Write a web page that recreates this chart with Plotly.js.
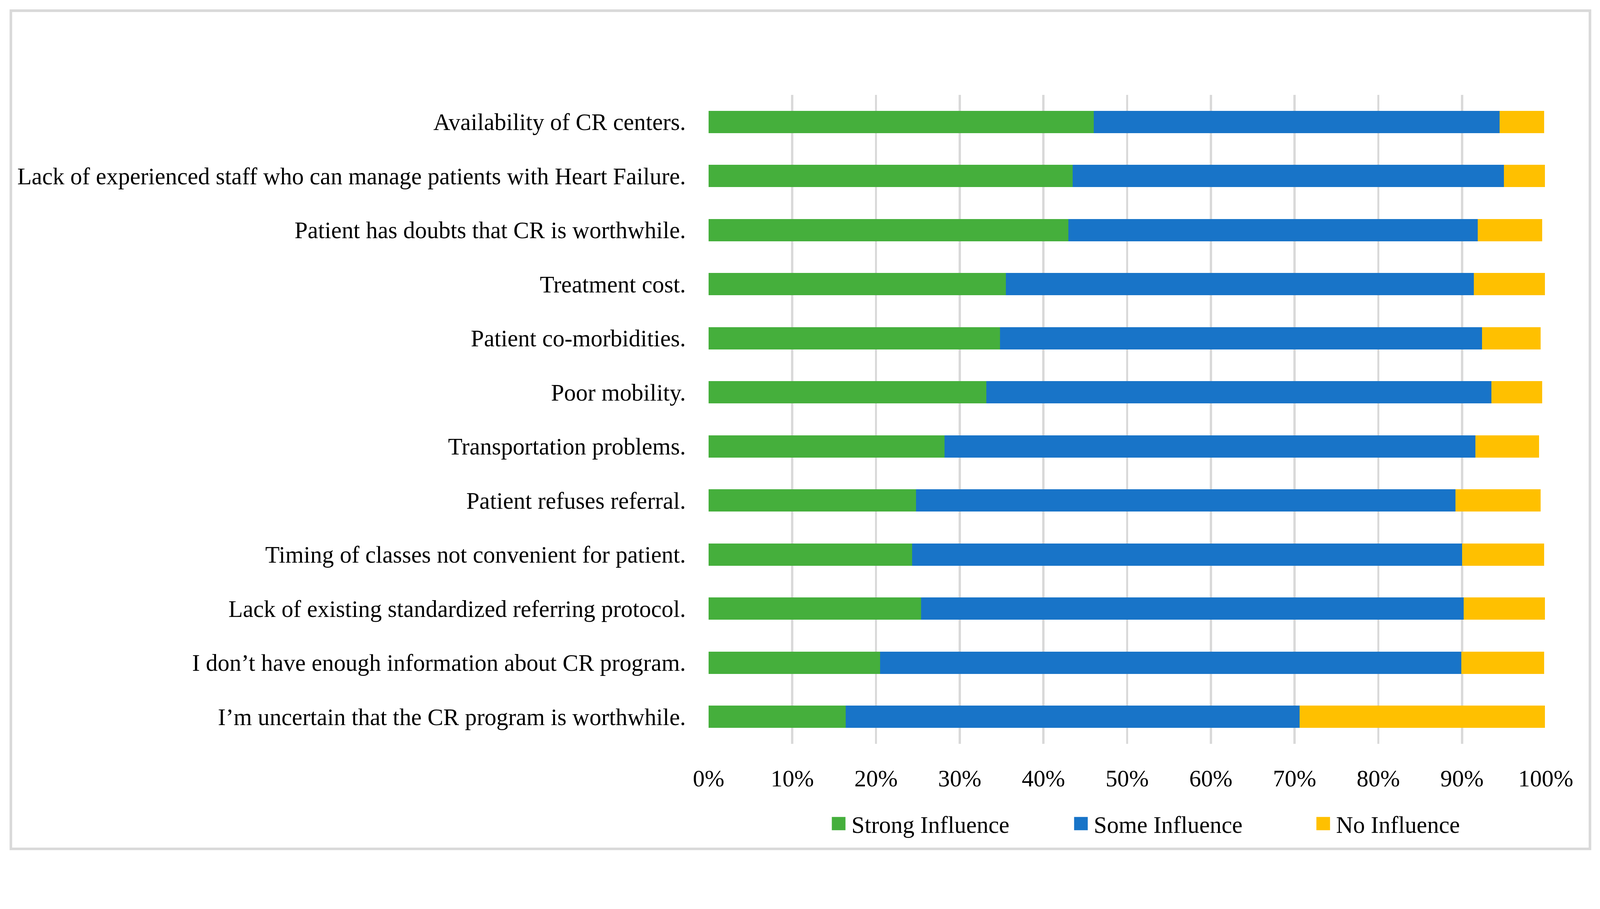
<!DOCTYPE html>
<html>
<head>
<meta charset="utf-8">
<script src="https://cdn.plot.ly/plotly-3.0.1.min.js"></script>
<style>
  html, body { margin: 0; padding: 0; background: #ffffff; overflow: hidden; }
</style>
</head>
<body>
<div id="chart"></div>
<script>
const categories = [
  "Availability of CR centers.",
  "Lack of experienced staff who can manage patients with Heart Failure.",
  "Patient has doubts that CR is worthwhile.",
  "Treatment cost.",
  "Patient co-morbidities.",
  "Poor mobility.",
  "Transportation problems.",
  "Patient refuses referral.",
  "Timing of classes not convenient for patient.",
  "Lack of existing standardized referring protocol.",
  "I don\u2019t have enough information about CR program.",
  "I\u2019m uncertain that the CR program is worthwhile."
];
const strongInfluence = [0.460, 0.435, 0.430, 0.355, 0.348, 0.332, 0.282, 0.248, 0.243, 0.254, 0.205, 0.164];
const someInfluence   = [0.485, 0.515, 0.489, 0.559, 0.576, 0.603, 0.634, 0.644, 0.657, 0.648, 0.694, 0.542];
const noInfluence     = [0.053, 0.049, 0.077, 0.085, 0.070, 0.061, 0.076, 0.102, 0.098, 0.097, 0.099, 0.293];
const seriesNames = ["Strong Influence", "Some Influence", "No Influence"];
const tickValues = [0, 0.1, 0.2, 0.3, 0.4, 0.5, 0.6, 0.7, 0.8, 0.9, 1.0];
const tickLabels = ["0%", "10%", "20%", "30%", "40%", "50%", "60%", "70%", "80%", "90%", "100%"];

// scale so the 4338x2328 design fits the real viewport
const BASE_W = 4338, BASE_H = 2328;
const vw = window.innerWidth || BASE_W;
const vh = window.innerHeight || BASE_H;
const S = Math.min(vw / BASE_W, vh / BASE_H);
const px = v => v * S;

const FONT = "'Palatino Linotype', 'Book Antiqua', Palatino, 'Liberation Serif', serif";
const FS = px(64);
const colors = ["#45af3c", "#1874c8", "#ffc000"];
const values = [strongInfluence, someInfluence, noInfluence];

const chartDiv = document.getElementById("chart");
chartDiv.style.width = px(BASE_W) + "px";
chartDiv.style.height = px(BASE_H) + "px";

const traces = values.map((v, i) => ({
  type: "bar",
  orientation: "h",
  name: seriesNames[i],
  x: v,
  y: categories,
  marker: { color: colors[i], line: { width: 0 } },
  hoverinfo: "x+y+name"
}));

const layout = {
  width: px(BASE_W),
  height: px(BASE_H),
  paper_bgcolor: "#ffffff",
  plot_bgcolor: "#ffffff",
  barmode: "stack",
  bargap: 0.591,
  margin: { l: px(1921), r: px(147), t: px(257), b: px(310), pad: 0 },
  font: { family: FONT, size: FS, color: "#000000" },
  showlegend: true,
  legend: {
    orientation: "h",
    x: 0.1462,
    xanchor: "left",
    y: -0.123,
    yanchor: "middle",
    entrywidth: px(596),
    entrywidthmode: "pixels",
    itemwidth: px(45),
    traceorder: "normal",
    font: { family: FONT, size: FS, color: "#000000" },
    bgcolor: "rgba(0,0,0,0)"
  },
  xaxis: {
    range: [0, 1],
    tickvals: tickValues,
    ticktext: tickLabels,
    showgrid: true,
    gridcolor: "#d9d9d9",
    gridwidth: px(6),
    zeroline: false,
    showline: false,
    ticks: "outside",
    ticklen: px(38),
    tickcolor: "rgba(0,0,0,0)",
    tickfont: { family: FONT, size: FS, color: "#000000" },
    fixedrange: true
  },
  yaxis: {
    type: "category",
    autorange: "reversed",
    showgrid: false,
    zeroline: false,
    showline: false,
    ticks: "outside",
    ticklen: px(48),
    tickcolor: "rgba(0,0,0,0)",
    tickfont: { family: FONT, size: FS, color: "#000000" },
    fixedrange: true
  },
  shapes: [{
    type: "rect",
    xref: "paper", yref: "paper",
    x0: -0.83348, x1: 1.05286,
    y0: -0.16184, y1: 1.12975,
    line: { color: "#d9d9d9", width: px(7) },
    fillcolor: "rgba(0,0,0,0)",
    layer: "below"
  }]
};

Plotly.newPlot(chartDiv, traces, layout, { displayModeBar: false, staticPlot: true }).then(function () {
  const a = px(11.5), b = px(25.5), h = px(18);
  document.querySelectorAll("#chart .legend .legendpoints path").forEach(function (p) {
    p.setAttribute("d", "M" + a + "," + h + "H" + (-b) + "V" + (-h) + "H" + a + "Z");
  });
});
</script>
</body>
</html>
